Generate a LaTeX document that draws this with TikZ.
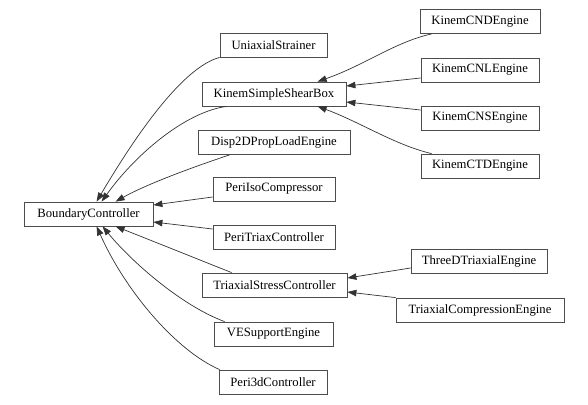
\documentclass[tikz,border=0pt]{standalone}
\usepackage{fontspec}
\setmainfont{Liberation Serif}
\usetikzlibrary{arrows.meta}
\begin{document}
\begin{tikzpicture}[x=1pt,y=-1pt,
  cls/.style={draw=black!70, line width=0.8pt, rectangle, minimum height=24pt, inner sep=0pt,
    font=\fontsize{12.7}{15}\selectfont, text=black},
  edge/.style={draw=black!80, line width=0.7pt, -{Triangle[length=9pt,width=6.5pt]}}]
\useasboundingbox (0,0) rectangle (588,404);
\node[cls, minimum width=129pt] (bc) at (88.5,214) {BoundaryController};
\node[cls, minimum width=107pt] (us) at (273.5,45) {UniaxialStrainer};
\node[cls, minimum width=144pt] (ks) at (274,94) {KinemSimpleShearBox};
\node[cls, minimum width=152pt] (d2) at (274,142.5) {Disp2DPropLoadEngine};
\node[cls, minimum width=122pt] (pic) at (274,189) {PeriIsoCompressor};
\node[cls, minimum width=122pt] (ptc) at (274,237) {PeriTriaxController};
\node[cls, minimum width=145pt] (tsc) at (274.5,285) {TriaxialStressController};
\node[cls, minimum width=119pt] (ves) at (273.5,334) {VESupportEngine};
\node[cls, minimum width=108pt] (p3d) at (273,382) {Peri3dController};
\node[cls, minimum width=120pt] (cnd) at (480,21.5) {KinemCNDEngine};
\node[cls, minimum width=118pt] (cnl) at (480,70) {KinemCNLEngine};
\node[cls, minimum width=118pt] (cns) at (480,118) {KinemCNSEngine};
\node[cls, minimum width=118pt] (ctd) at (480,166) {KinemCTDEngine};
\node[cls, minimum width=136pt] (tde) at (479,261) {ThreeDTriaxialEngine};
\node[cls, minimum width=168pt] (tce) at (480,310) {TriaxialCompressionEngine};
% edges to BoundaryController
\draw[edge] (us.south west) .. controls (180,68) and (130,145) .. ([xshift=73pt]bc.north west);
\draw[edge] ([xshift=25pt]ks.south west) .. controls (185,112) and (135,155) .. ([xshift=78pt]bc.north west);
\draw[edge] ([xshift=32pt]d2.south west) .. controls (190,168) and (145,185) .. ([xshift=92pt]bc.north west);
\draw[edge] ([yshift=-8pt]pic.west) -- ([yshift=9pt]bc.east);
\draw[edge] ([yshift=8pt]ptc.west) -- ([yshift=-8pt]bc.east);
\draw[edge] ([xshift=30pt]tsc.north west) .. controls (195,258) and (150,240) .. ([xshift=92pt]bc.south west);
\draw[edge] ([xshift=11pt]ves.north west) .. controls (180,305) and (130,260) .. ([xshift=79pt]bc.south west);
\draw[edge] ([xshift=1pt]p3d.north west) .. controls (175,350) and (125,290) .. ([xshift=73pt]bc.south west);
% edges to KinemSimpleShearBox
\draw[edge] ([xshift=12pt]cnd.south west) .. controls (395,42) and (365,65) .. ([xshift=116pt]ks.north west);
\draw[edge] ([yshift=-8pt]cnl.west) -- ([yshift=8pt]ks.east);
\draw[edge] ([yshift=8pt]cns.west) -- ([yshift=-8pt]ks.east);
\draw[edge] ([xshift=11pt]ctd.north west) .. controls (395,145) and (360,122) .. ([xshift=116pt]ks.south west);
% edges to TriaxialStressController
\draw[edge] ([yshift=-7pt]tde.west) -- ([yshift=7pt]tsc.east);
\draw[edge] (tce.north west) -- ([yshift=-7pt]tsc.east);
\end{tikzpicture}
\end{document}
